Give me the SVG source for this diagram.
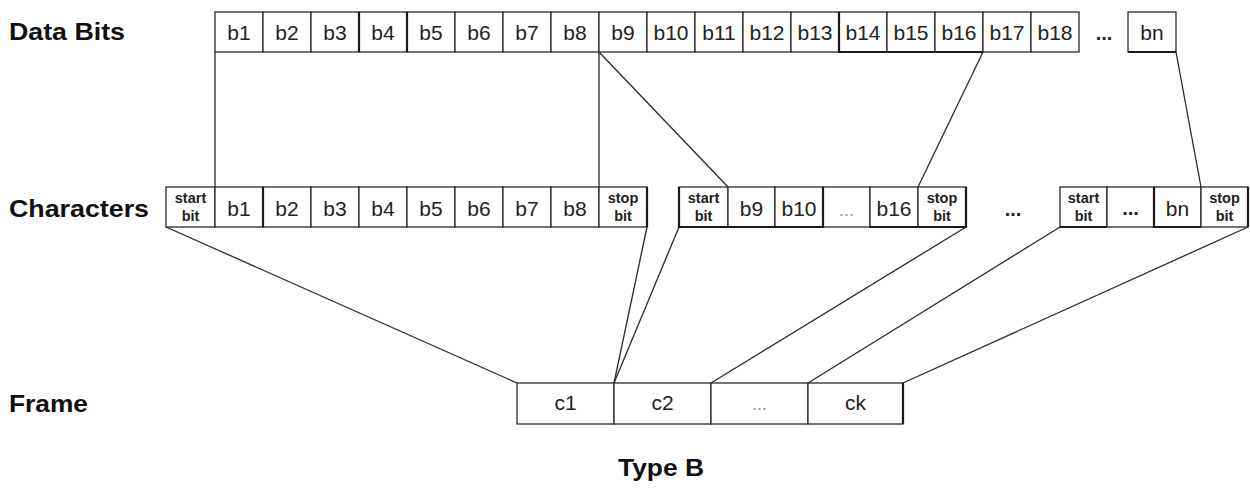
<svg xmlns="http://www.w3.org/2000/svg" width="1250" height="499" viewBox="0 0 1250 499">
<style>
.bg{fill:#ffffff}
.cell{fill:#ffffff;stroke:#2a2a2a;stroke-width:1.3}
.thick{fill:none;stroke:#1a1a1a;stroke-width:2.2}
.lbl{font-family:"Liberation Sans",Arial,sans-serif;font-weight:bold;font-size:24px;fill:#111}
.t{font-family:"Liberation Sans",Arial,sans-serif;font-size:21px;fill:#222;text-anchor:middle}
.sb{font-family:"Liberation Sans",Arial,sans-serif;font-weight:bold;font-size:14.5px;fill:#222;text-anchor:middle}
.dots{font-family:"Liberation Sans",Arial,sans-serif;font-weight:bold;font-size:20px;fill:#222;text-anchor:middle}
.ldots{font-family:"Liberation Sans",Arial,sans-serif;font-size:18px;fill:#999;text-anchor:middle}
.conn line{stroke:#2a2a2a;stroke-width:1.3}
</style>
<rect class="bg" x="0" y="0" width="1250" height="499"/>

<g id="labels">
<text class="lbl" x="9" y="40" textLength="116" lengthAdjust="spacingAndGlyphs">Data Bits</text>
<text class="lbl" x="9" y="217" textLength="140" lengthAdjust="spacingAndGlyphs">Characters</text>
<text class="lbl" x="9" y="412" textLength="79" lengthAdjust="spacingAndGlyphs">Frame</text>
<text class="lbl" x="618" y="476" textLength="86" lengthAdjust="spacingAndGlyphs">Type B</text>
</g>

<g id="connectors" class="conn">
<line x1="215" y1="52" x2="215" y2="187"/>
<line x1="599" y1="52" x2="599" y2="187"/>
<line x1="599" y1="52" x2="728" y2="187"/>
<line x1="983" y1="52" x2="918" y2="187"/>
<line x1="1176" y1="52" x2="1201" y2="187"/>
<line x1="166" y1="227" x2="517" y2="383"/>
<line x1="647" y1="227" x2="614" y2="383"/>
<line x1="679" y1="227" x2="614" y2="383"/>
<line x1="966" y1="227" x2="711" y2="383"/>
<line x1="1060" y1="227" x2="808" y2="383"/>
<line x1="1248" y1="227" x2="903" y2="383"/>
</g>

<g id="databits">
<rect class="cell" x="215" y="12" width="48" height="40"/><text class="t" x="239" y="40">b1</text>
<rect class="cell" x="263" y="12" width="48" height="40"/><text class="t" x="287" y="40">b2</text>
<rect class="cell" x="311" y="12" width="48" height="40"/><text class="t" x="335" y="40">b3</text>
<rect class="cell" x="359" y="12" width="48" height="40"/><text class="t" x="383" y="40">b4</text>
<rect class="cell" x="407" y="12" width="48" height="40"/><text class="t" x="431" y="40">b5</text>
<rect class="cell" x="455" y="12" width="48" height="40"/><text class="t" x="479" y="40">b6</text>
<rect class="cell" x="503" y="12" width="48" height="40"/><text class="t" x="527" y="40">b7</text>
<rect class="cell" x="551" y="12" width="48" height="40"/><text class="t" x="575" y="40">b8</text>
<rect class="cell" x="599" y="12" width="48" height="40"/><text class="t" x="623" y="40">b9</text>
<rect class="cell" x="647" y="12" width="48" height="40"/><text class="t" x="671" y="40">b10</text>
<rect class="cell" x="695" y="12" width="48" height="40"/><text class="t" x="719" y="40">b11</text>
<rect class="cell" x="743" y="12" width="48" height="40"/><text class="t" x="767" y="40">b12</text>
<rect class="cell" x="791" y="12" width="48" height="40"/><text class="t" x="815" y="40">b13</text>
<rect class="cell" x="839" y="12" width="48" height="40"/><text class="t" x="863" y="40">b14</text>
<rect class="cell" x="887" y="12" width="48" height="40"/><text class="t" x="911" y="40">b15</text>
<rect class="cell" x="935" y="12" width="48" height="40"/><text class="t" x="959" y="40">b16</text>
<rect class="cell" x="983" y="12" width="48" height="40"/><text class="t" x="1007" y="40">b17</text>
<rect class="cell" x="1031" y="12" width="48" height="40"/><text class="t" x="1055" y="40">b18</text>
<text class="dots" x="1104" y="40">...</text>
<rect class="cell" x="1128" y="12" width="48" height="40"/><text class="t" x="1152" y="40">bn</text>
<path class="thick" d="M839 12 V52 H983 M359 12 V52 M407 12 V52 M1128 52 H1176"/>
</g>

<g id="char1">
<rect class="cell" x="166" y="187" width="49" height="40"/>
<text class="sb" x="190.5" y="203">start</text><text class="sb" x="190.5" y="221">bit</text>
<rect class="cell" x="215" y="187" width="48" height="40"/><text class="t" x="239" y="216">b1</text>
<rect class="cell" x="263" y="187" width="48" height="40"/><text class="t" x="287" y="216">b2</text>
<rect class="cell" x="311" y="187" width="48" height="40"/><text class="t" x="335" y="216">b3</text>
<rect class="cell" x="359" y="187" width="48" height="40"/><text class="t" x="383" y="216">b4</text>
<rect class="cell" x="407" y="187" width="48" height="40"/><text class="t" x="431" y="216">b5</text>
<rect class="cell" x="455" y="187" width="48" height="40"/><text class="t" x="479" y="216">b6</text>
<rect class="cell" x="503" y="187" width="48" height="40"/><text class="t" x="527" y="216">b7</text>
<rect class="cell" x="551" y="187" width="48" height="40"/><text class="t" x="575" y="216">b8</text>
<rect class="cell" x="599" y="187" width="48" height="40"/>
<text class="sb" x="623" y="203">stop</text><text class="sb" x="623" y="221">bit</text>
<path class="thick" d="M263 187 V227 M647 187 V227"/>
</g>

<g id="char2">
<rect class="cell" x="679" y="187" width="49" height="40"/>
<text class="sb" x="703.5" y="203">start</text><text class="sb" x="703.5" y="221">bit</text>
<rect class="cell" x="728" y="187" width="47" height="40"/><text class="t" x="751.5" y="216">b9</text>
<rect class="cell" x="775" y="187" width="48" height="40"/><text class="t" x="799" y="216">b10</text>
<rect class="cell" x="823" y="187" width="47" height="40"/><text class="ldots" x="846.5" y="216">...</text>
<rect class="cell" x="870" y="187" width="48" height="40"/><text class="t" x="894" y="216">b16</text>
<rect class="cell" x="918" y="187" width="48" height="40"/>
<text class="sb" x="942" y="203">stop</text><text class="sb" x="942" y="221">bit</text>
<path class="thick" d="M679 187 V227 H823 V187 M870 227 H966 V187"/>
</g>

<text class="dots" x="1013" y="216">...</text>

<g id="char3">
<rect class="cell" x="1060" y="187" width="47" height="40"/>
<text class="sb" x="1083.5" y="203">start</text><text class="sb" x="1083.5" y="221">bit</text>
<rect class="cell" x="1107" y="187" width="47" height="40"/><text class="dots" x="1130.5" y="215">...</text>
<rect class="cell" x="1154" y="187" width="47" height="40"/><text class="t" x="1177.5" y="216">bn</text>
<rect class="cell" x="1201" y="187" width="47" height="40"/>
<text class="sb" x="1224.5" y="203">stop</text><text class="sb" x="1224.5" y="221">bit</text>
<path class="thick" d="M1060 227 H1107 M1154 187 V227 H1201 M1248 187 V227"/>
</g>

<g id="frame">
<rect class="cell" x="517" y="383" width="97" height="41"/><text class="t" x="565.5" y="410">c1</text>
<rect class="cell" x="614" y="383" width="97" height="41"/><text class="t" x="662.5" y="410">c2</text>
<rect class="cell" x="711" y="383" width="97" height="41"/><text class="ldots" x="759.5" y="410">...</text>
<rect class="cell" x="808" y="383" width="95" height="41"/><text class="t" x="855.5" y="410">ck</text>
<path class="thick" d="M903 383 V424"/>
</g>
</svg>
